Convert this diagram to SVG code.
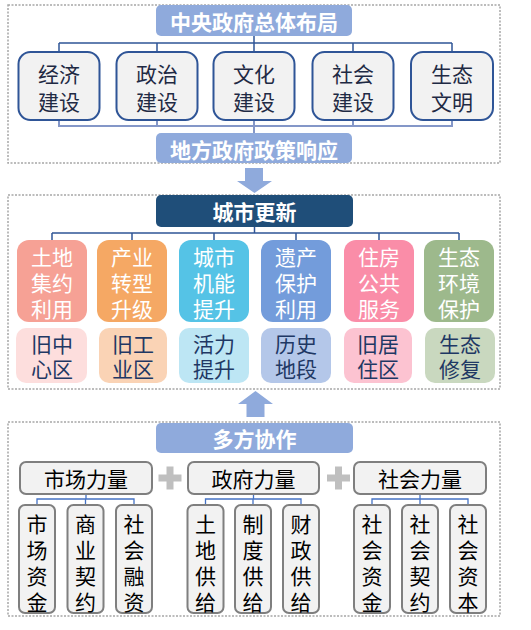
<svg xmlns="http://www.w3.org/2000/svg" width="531" height="630" viewBox="0 0 531 630">
<style>
text{font-family:"Noto Sans CJK SC","Noto Sans",sans-serif;font-size:21px;text-anchor:middle;dominant-baseline:central}
.frame{fill:none;stroke:#A6A6A6;stroke-width:1.5;stroke-dasharray:2 1.5}
.hdr{fill:#8FAADC}
.hdrt{fill:#fff;font-weight:bold}
.gov{fill:#F2F2F2;stroke:#2F5597;stroke-width:2}
.dk{fill:#1F2A44}
.wt{fill:#fff}
.nv{fill:#1F3864}
.gr{fill:#F2F2F2;stroke:#7F7F7F;stroke-width:2}
.bk{fill:#000}
.ln{fill:none;stroke:#2F5597;stroke-width:1.5}
.lnl{fill:none;stroke:#8497C8;stroke-width:2}
.lnb{fill:none;stroke:#4472C4;stroke-width:1.3}
.arr{fill:#8FAADC}
.plus{fill:#BFBFBF}
</style>
<rect class="frame" x="8" y="5" width="492" height="158"/>
<rect class="frame" x="8" y="195" width="492" height="194"/>
<rect class="frame" x="8" y="422" width="492" height="194"/>

<g id="connectors">
<path class="ln" d="M254 36V43M59 43H452M59 43V52M157 43V52M254 43V52M353 43V52M452 43V52"/>
<path class="lnl" d="M59 120V126H452V120M157 120V126M254 120V133M353 120V126"/>
<path class="ln" d="M254.5 227V233M52 233H459M52 233V240M132 233V240M214 233V240M296 233V240M379 233V240M459 233V240"/>
<path class="lnb" d="M86 494V499M37 505V499H134V505M85.5 499V505"/>
<path class="lnb" d="M253.5 494V499M205.5 505V499H301V505M253 499V505"/>
<path class="lnb" d="M420 494V499M372 505V499H468V505M420 499V505"/>
<path id="arrow-down" class="arr" d="M245 168H263V181H272L254.5 193L237 181H245Z"/>
<path id="arrow-up" class="arr" d="M238 404L255.5 391L273 404H264.5V417H246.5V404Z"/>
</g>

<g id="central"><rect class="hdr" x="156" y="5" width="196" height="31" rx="5"/><text class="hdrt" x="254" y="21">中央政府总体布局</text></g>
<g id="econ"><rect class="gov" x="18.5" y="52" width="81" height="68" rx="12"/><text class="dk" x="59" y="73">经济<tspan x="59" dy="27.5">建设</tspan></text></g>
<g id="poli"><rect class="gov" x="116.5" y="52" width="81" height="68" rx="12"/><text class="dk" x="157" y="73">政治<tspan x="157" dy="27.5">建设</tspan></text></g>
<g id="cult"><rect class="gov" x="213.5" y="52" width="81" height="68" rx="12"/><text class="dk" x="254" y="73">文化<tspan x="254" dy="27.5">建设</tspan></text></g>
<g id="soc"><rect class="gov" x="312.5" y="52" width="81" height="68" rx="12"/><text class="dk" x="353" y="73">社会<tspan x="353" dy="27.5">建设</tspan></text></g>
<g id="eco"><rect class="gov" x="411" y="52" width="82" height="68" rx="12"/><text class="dk" x="452" y="73">生态<tspan x="452" dy="27.5">文明</tspan></text></g>
<g id="local"><rect class="hdr" x="156" y="133" width="196" height="30" rx="5"/><text class="hdrt" x="254" y="148.5">地方政府政策响应</text></g>

<g id="renewal"><rect fill="#1F4E79" x="156" y="195" width="197" height="32" rx="5"/><text class="hdrt" x="254.5" y="211">城市更新</text></g>
<g id="u1"><rect fill="#F6A195" x="17" y="240" width="70" height="82" rx="12"/><text class="wt" x="52" y="256">土地<tspan x="52" dy="26">集约</tspan><tspan x="52" dy="26">利用</tspan></text></g>
<g id="u2"><rect fill="#F5A864" x="97" y="240" width="70" height="82" rx="12"/><text class="wt" x="132" y="256">产业<tspan x="132" dy="26">转型</tspan><tspan x="132" dy="26">升级</tspan></text></g>
<g id="u3"><rect fill="#55C3E6" x="179" y="240" width="70" height="82" rx="12"/><text class="wt" x="214" y="256">城市<tspan x="214" dy="26">机能</tspan><tspan x="214" dy="26">提升</tspan></text></g>
<g id="u4"><rect fill="#739CDB" x="261" y="240" width="70" height="82" rx="12"/><text class="wt" x="296" y="256">遗产<tspan x="296" dy="26">保护</tspan><tspan x="296" dy="26">利用</tspan></text></g>
<g id="u5"><rect fill="#FA8DA8" x="344" y="240" width="70" height="82" rx="12"/><text class="wt" x="379" y="256">住房<tspan x="379" dy="26">公共</tspan><tspan x="379" dy="26">服务</tspan></text></g>
<g id="u6"><rect fill="#9DB98C" x="424" y="240" width="70" height="82" rx="12"/><text class="wt" x="459" y="256">生态<tspan x="459" dy="26">环境</tspan><tspan x="459" dy="26">保护</tspan></text></g>
<g id="a1"><rect fill="#FDDEDD" x="16" y="328" width="71" height="55" rx="10"/><text class="nv" x="52" y="343">旧中<tspan x="52" dy="25">心区</tspan></text></g>
<g id="a2"><rect fill="#FAD3B5" x="99" y="328" width="68" height="55" rx="10"/><text class="nv" x="133" y="343">旧工<tspan x="133" dy="25">业区</tspan></text></g>
<g id="a3"><rect fill="#BDE6F4" x="179" y="328" width="70" height="55" rx="10"/><text class="nv" x="214" y="343">活力<tspan x="214" dy="25">提升</tspan></text></g>
<g id="a4"><rect fill="#B4C7E9" x="261" y="328" width="70" height="55" rx="10"/><text class="nv" x="296" y="343">历史<tspan x="296" dy="25">地段</tspan></text></g>
<g id="a5"><rect fill="#FCC3D1" x="344" y="328" width="68" height="55" rx="10"/><text class="nv" x="378" y="343">旧居<tspan x="378" dy="25">住区</tspan></text></g>
<g id="a6"><rect fill="#C9D8BF" x="425" y="328" width="70" height="55" rx="10"/><text class="nv" x="460" y="343">生态<tspan x="460" dy="25">修复</tspan></text></g>

<g id="collab"><rect class="hdr" x="156" y="423" width="197" height="30" rx="5"/><text class="hdrt" x="254.5" y="438">多方协作</text></g>
<g id="market"><rect class="gr" x="20" y="462" width="132" height="32" rx="6"/><text class="bk" x="86" y="478">市场力量</text></g>
<g id="govf"><rect class="gr" x="188" y="462" width="131" height="32" rx="6"/><text class="bk" x="253.5" y="478">政府力量</text></g>
<g id="socf"><rect class="gr" x="354" y="462" width="132" height="32" rx="6"/><text class="bk" x="420" y="478">社会力量</text></g>
<g id="plus1"><rect class="plus" x="158.5" y="474.5" width="23" height="7"/><rect class="plus" x="166.5" y="466.5" width="7" height="23"/></g>
<g id="plus2"><rect class="plus" x="327" y="474.5" width="23" height="7"/><rect class="plus" x="335" y="466.5" width="7" height="23"/></g>

<g id="m1"><rect class="gr" x="19" y="505" width="36" height="108" rx="6"/><text class="bk" x="37" y="523">市<tspan x="37" dy="26">场</tspan><tspan x="37" dy="26">资</tspan><tspan x="37" dy="26">金</tspan></text></g>
<g id="m2"><rect class="gr" x="67.5" y="505" width="36" height="108" rx="6"/><text class="bk" x="85.5" y="523">商<tspan x="85.5" dy="26">业</tspan><tspan x="85.5" dy="26">契</tspan><tspan x="85.5" dy="26">约</tspan></text></g>
<g id="m3"><rect class="gr" x="116" y="505" width="36" height="108" rx="6"/><text class="bk" x="134" y="523">社<tspan x="134" dy="26">会</tspan><tspan x="134" dy="26">融</tspan><tspan x="134" dy="26">资</tspan></text></g>
<g id="g1"><rect class="gr" x="187.5" y="505" width="36" height="108" rx="6"/><text class="bk" x="205.5" y="523">土<tspan x="205.5" dy="26">地</tspan><tspan x="205.5" dy="26">供</tspan><tspan x="205.5" dy="26">给</tspan></text></g>
<g id="g2"><rect class="gr" x="235" y="505" width="36" height="108" rx="6"/><text class="bk" x="253" y="523">制<tspan x="253" dy="26">度</tspan><tspan x="253" dy="26">供</tspan><tspan x="253" dy="26">给</tspan></text></g>
<g id="g3"><rect class="gr" x="283" y="505" width="36" height="108" rx="6"/><text class="bk" x="301" y="523">财<tspan x="301" dy="26">政</tspan><tspan x="301" dy="26">供</tspan><tspan x="301" dy="26">给</tspan></text></g>
<g id="s1"><rect class="gr" x="354" y="505" width="36" height="108" rx="6"/><text class="bk" x="372" y="523">社<tspan x="372" dy="26">会</tspan><tspan x="372" dy="26">资</tspan><tspan x="372" dy="26">金</tspan></text></g>
<g id="s2"><rect class="gr" x="402" y="505" width="36" height="108" rx="6"/><text class="bk" x="420" y="523">社<tspan x="420" dy="26">会</tspan><tspan x="420" dy="26">契</tspan><tspan x="420" dy="26">约</tspan></text></g>
<g id="s3"><rect class="gr" x="450" y="505" width="36" height="108" rx="6"/><text class="bk" x="468" y="523">社<tspan x="468" dy="26">会</tspan><tspan x="468" dy="26">资</tspan><tspan x="468" dy="26">本</tspan></text></g>
</svg>
